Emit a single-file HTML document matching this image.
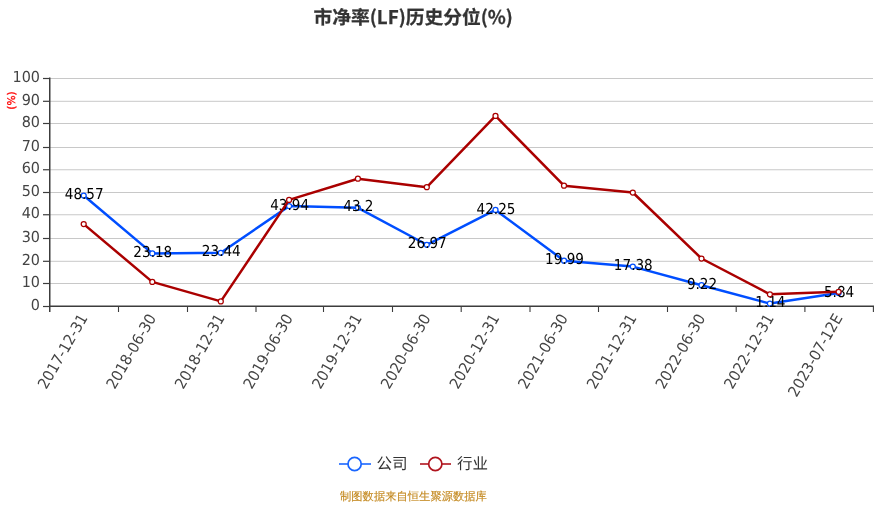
<!DOCTYPE html>
<html><head><meta charset="utf-8"><title>市净率(LF)历史分位(%)</title>
<style>
html,body{margin:0;padding:0;background:#fff;}
body{width:883px;height:509px;position:relative;overflow:hidden;}
svg{position:absolute;left:0;top:0;will-change:transform;}
text{text-rendering:geometricPrecision;}
.ax{font-family:"DejaVu Sans","Noto Sans CJK SC",sans-serif;font-size:15.2px;fill:#444;}
.dl{font-family:"DejaVu Sans","Noto Sans CJK SC",sans-serif;font-size:15.0px;fill:#000;}
.title{font-family:"Noto Sans CJK SC","Liberation Sans",sans-serif;font-size:18.75px;font-weight:bold;fill:#333;stroke:#333;stroke-width:0.25px;}
.unit{font-family:"DejaVu Sans","Noto Sans CJK SC",sans-serif;font-size:10.6px;fill:#ff0000;stroke:#ff0000;stroke-width:0.3px;}
.leg{font-family:"Liberation Sans","Noto Sans CJK SC",sans-serif;font-size:15.5px;fill:#333;}
.src{font-family:"Liberation Sans","WenQuanYi Zen Hei","Noto Sans CJK SC",sans-serif;font-size:11.3px;fill:#c48a22;stroke:#c48a22;stroke-width:0.15px;}
</style></head>
<body>
<svg width="883" height="509" viewBox="0 0 883 509">
<text x="313.5" y="24" class="title">市净率(LF)历史分位(%)</text>
<text transform="translate(14.5,100.5) rotate(-90)" text-anchor="middle" class="unit">(%)</text>
<line x1="50" y1="283.50" x2="873" y2="283.50" stroke="#c8c8c8" stroke-width="1"/>
<line x1="50" y1="261.30" x2="873" y2="261.30" stroke="#c8c8c8" stroke-width="1"/>
<line x1="50" y1="238.50" x2="873" y2="238.50" stroke="#c8c8c8" stroke-width="1"/>
<line x1="50" y1="214.75" x2="873" y2="214.75" stroke="#c8c8c8" stroke-width="1"/>
<line x1="50" y1="192.50" x2="873" y2="192.50" stroke="#c8c8c8" stroke-width="1"/>
<line x1="50" y1="169.75" x2="873" y2="169.75" stroke="#c8c8c8" stroke-width="1"/>
<line x1="50" y1="147.50" x2="873" y2="147.50" stroke="#c8c8c8" stroke-width="1"/>
<line x1="50" y1="123.50" x2="873" y2="123.50" stroke="#c8c8c8" stroke-width="1"/>
<line x1="50" y1="101.30" x2="873" y2="101.30" stroke="#c8c8c8" stroke-width="1"/>
<line x1="50" y1="78.50" x2="873" y2="78.50" stroke="#c8c8c8" stroke-width="1"/>
<line x1="43" y1="306.50" x2="50" y2="306.50" stroke="#3c3c3c" stroke-width="1.2"/>
<text transform="translate(40,309.70) scale(0.947,1)" text-anchor="end" class="ax">0</text>
<line x1="43" y1="283.50" x2="50" y2="283.50" stroke="#3c3c3c" stroke-width="1.2"/>
<text transform="translate(40,286.70) scale(0.947,1)" text-anchor="end" class="ax">10</text>
<line x1="43" y1="261.30" x2="50" y2="261.30" stroke="#3c3c3c" stroke-width="1.2"/>
<text transform="translate(40,264.50) scale(0.947,1)" text-anchor="end" class="ax">20</text>
<line x1="43" y1="238.50" x2="50" y2="238.50" stroke="#3c3c3c" stroke-width="1.2"/>
<text transform="translate(40,241.70) scale(0.947,1)" text-anchor="end" class="ax">30</text>
<line x1="43" y1="214.75" x2="50" y2="214.75" stroke="#3c3c3c" stroke-width="1.2"/>
<text transform="translate(40,217.95) scale(0.947,1)" text-anchor="end" class="ax">40</text>
<line x1="43" y1="192.50" x2="50" y2="192.50" stroke="#3c3c3c" stroke-width="1.2"/>
<text transform="translate(40,195.70) scale(0.947,1)" text-anchor="end" class="ax">50</text>
<line x1="43" y1="169.75" x2="50" y2="169.75" stroke="#3c3c3c" stroke-width="1.2"/>
<text transform="translate(40,172.95) scale(0.947,1)" text-anchor="end" class="ax">60</text>
<line x1="43" y1="147.50" x2="50" y2="147.50" stroke="#3c3c3c" stroke-width="1.2"/>
<text transform="translate(40,150.70) scale(0.947,1)" text-anchor="end" class="ax">70</text>
<line x1="43" y1="123.50" x2="50" y2="123.50" stroke="#3c3c3c" stroke-width="1.2"/>
<text transform="translate(40,126.70) scale(0.947,1)" text-anchor="end" class="ax">80</text>
<line x1="43" y1="101.30" x2="50" y2="101.30" stroke="#3c3c3c" stroke-width="1.2"/>
<text transform="translate(40,104.50) scale(0.947,1)" text-anchor="end" class="ax">90</text>
<line x1="43" y1="78.50" x2="50" y2="78.50" stroke="#3c3c3c" stroke-width="1.2"/>
<text transform="translate(40,81.70) scale(0.947,1)" text-anchor="end" class="ax">100</text>
<line x1="49.75" y1="77.5" x2="49.75" y2="312" stroke="#3c3c3c" stroke-width="1.5"/>
<line x1="49" y1="306.25" x2="874" y2="306.25" stroke="#3c3c3c" stroke-width="1.5"/>
<line x1="118.50" y1="306" x2="118.50" y2="312" stroke="#3c3c3c" stroke-width="1.1"/>
<line x1="187.50" y1="306" x2="187.50" y2="312" stroke="#3c3c3c" stroke-width="1.1"/>
<line x1="256.00" y1="306" x2="256.00" y2="312" stroke="#3c3c3c" stroke-width="1.1"/>
<line x1="323.50" y1="306" x2="323.50" y2="312" stroke="#3c3c3c" stroke-width="1.1"/>
<line x1="392.50" y1="306" x2="392.50" y2="312" stroke="#3c3c3c" stroke-width="1.1"/>
<line x1="461.20" y1="306" x2="461.20" y2="312" stroke="#3c3c3c" stroke-width="1.1"/>
<line x1="530.00" y1="306" x2="530.00" y2="312" stroke="#3c3c3c" stroke-width="1.1"/>
<line x1="598.50" y1="306" x2="598.50" y2="312" stroke="#3c3c3c" stroke-width="1.1"/>
<line x1="667.50" y1="306" x2="667.50" y2="312" stroke="#3c3c3c" stroke-width="1.1"/>
<line x1="736.20" y1="306" x2="736.20" y2="312" stroke="#3c3c3c" stroke-width="1.1"/>
<line x1="804.90" y1="306" x2="804.90" y2="312" stroke="#3c3c3c" stroke-width="1.1"/>
<line x1="873.40" y1="306" x2="873.40" y2="312" stroke="#3c3c3c" stroke-width="1.1"/>
<text transform="translate(83.70,315.2) rotate(-60) scale(0.947,1)" text-anchor="end" class="ax" dy="5">2017-12-31</text>
<text transform="translate(152.30,315.2) rotate(-60) scale(0.947,1)" text-anchor="end" class="ax" dy="5">2018-06-30</text>
<text transform="translate(220.80,315.2) rotate(-60) scale(0.947,1)" text-anchor="end" class="ax" dy="5">2018-12-31</text>
<text transform="translate(289.10,315.2) rotate(-60) scale(0.947,1)" text-anchor="end" class="ax" dy="5">2019-06-30</text>
<text transform="translate(357.90,315.2) rotate(-60) scale(0.947,1)" text-anchor="end" class="ax" dy="5">2019-12-31</text>
<text transform="translate(426.80,315.2) rotate(-60) scale(0.947,1)" text-anchor="end" class="ax" dy="5">2020-06-30</text>
<text transform="translate(495.50,315.2) rotate(-60) scale(0.947,1)" text-anchor="end" class="ax" dy="5">2020-12-31</text>
<text transform="translate(564.00,315.2) rotate(-60) scale(0.947,1)" text-anchor="end" class="ax" dy="5">2021-06-30</text>
<text transform="translate(632.80,315.2) rotate(-60) scale(0.947,1)" text-anchor="end" class="ax" dy="5">2021-12-31</text>
<text transform="translate(701.50,315.2) rotate(-60) scale(0.947,1)" text-anchor="end" class="ax" dy="5">2022-06-30</text>
<text transform="translate(769.90,315.2) rotate(-60) scale(0.947,1)" text-anchor="end" class="ax" dy="5">2022-12-31</text>
<text transform="translate(838.60,315.2) rotate(-60) scale(0.947,1)" text-anchor="end" class="ax" dy="5">2023-07-12E</text>
<polyline points="83.70,195.56 152.30,253.40 220.80,252.80 289.10,206.10 357.90,207.79 426.80,244.76 495.50,209.95 564.00,260.66 632.80,266.61 701.50,285.20 769.90,303.60 838.60,292.90" fill="none" stroke="#004eff" stroke-width="2.5" stroke-linejoin="round"/>
<circle cx="83.70" cy="195.56" r="2.5" fill="#fff" stroke="#004eff" stroke-width="1.25"/>
<circle cx="152.30" cy="253.40" r="2.5" fill="#fff" stroke="#004eff" stroke-width="1.25"/>
<circle cx="220.80" cy="252.80" r="2.5" fill="#fff" stroke="#004eff" stroke-width="1.25"/>
<circle cx="289.10" cy="206.10" r="2.5" fill="#fff" stroke="#004eff" stroke-width="1.25"/>
<circle cx="357.90" cy="207.79" r="2.5" fill="#fff" stroke="#004eff" stroke-width="1.25"/>
<circle cx="426.80" cy="244.76" r="2.5" fill="#fff" stroke="#004eff" stroke-width="1.25"/>
<circle cx="495.50" cy="209.95" r="2.5" fill="#fff" stroke="#004eff" stroke-width="1.25"/>
<circle cx="564.00" cy="260.66" r="2.5" fill="#fff" stroke="#004eff" stroke-width="1.25"/>
<circle cx="632.80" cy="266.61" r="2.5" fill="#fff" stroke="#004eff" stroke-width="1.25"/>
<circle cx="701.50" cy="285.20" r="2.5" fill="#fff" stroke="#004eff" stroke-width="1.25"/>
<circle cx="769.90" cy="303.60" r="2.5" fill="#fff" stroke="#004eff" stroke-width="1.25"/>
<circle cx="838.60" cy="292.90" r="2.5" fill="#fff" stroke="#004eff" stroke-width="1.25"/>
<text transform="translate(84.20,199.16) scale(0.905,1)" text-anchor="middle" class="dl">48.57</text>
<text transform="translate(152.80,257.00) scale(0.905,1)" text-anchor="middle" class="dl">23.18</text>
<text transform="translate(221.30,256.40) scale(0.905,1)" text-anchor="middle" class="dl">23.44</text>
<text transform="translate(289.60,209.70) scale(0.905,1)" text-anchor="middle" class="dl">43.94</text>
<text transform="translate(358.40,211.39) scale(0.905,1)" text-anchor="middle" class="dl">43.2</text>
<text transform="translate(427.30,248.36) scale(0.905,1)" text-anchor="middle" class="dl">26.97</text>
<text transform="translate(496.00,213.55) scale(0.905,1)" text-anchor="middle" class="dl">42.25</text>
<text transform="translate(564.50,264.26) scale(0.905,1)" text-anchor="middle" class="dl">19.99</text>
<text transform="translate(633.30,270.21) scale(0.905,1)" text-anchor="middle" class="dl">17.38</text>
<text transform="translate(702.00,288.80) scale(0.905,1)" text-anchor="middle" class="dl">9.22</text>
<text transform="translate(770.40,307.20) scale(0.905,1)" text-anchor="middle" class="dl">1.14</text>
<text transform="translate(839.10,296.50) scale(0.905,1)" text-anchor="middle" class="dl">5.84</text>
<polyline points="83.70,224.10 152.30,281.90 220.80,301.40 289.10,199.90 357.90,178.70 426.80,187.20 495.50,115.90 564.00,185.70 632.80,192.50 701.50,258.50 769.90,294.30 838.60,291.80" fill="none" stroke="#aa0000" stroke-width="2.5" stroke-linejoin="round"/>
<circle cx="83.70" cy="224.10" r="2.5" fill="#fff" stroke="#aa0000" stroke-width="1.25"/>
<circle cx="152.30" cy="281.90" r="2.5" fill="#fff" stroke="#aa0000" stroke-width="1.25"/>
<circle cx="220.80" cy="301.40" r="2.5" fill="#fff" stroke="#aa0000" stroke-width="1.25"/>
<circle cx="289.10" cy="199.90" r="2.5" fill="#fff" stroke="#aa0000" stroke-width="1.25"/>
<circle cx="357.90" cy="178.70" r="2.5" fill="#fff" stroke="#aa0000" stroke-width="1.25"/>
<circle cx="426.80" cy="187.20" r="2.5" fill="#fff" stroke="#aa0000" stroke-width="1.25"/>
<circle cx="495.50" cy="115.90" r="2.5" fill="#fff" stroke="#aa0000" stroke-width="1.25"/>
<circle cx="564.00" cy="185.70" r="2.5" fill="#fff" stroke="#aa0000" stroke-width="1.25"/>
<circle cx="632.80" cy="192.50" r="2.5" fill="#fff" stroke="#aa0000" stroke-width="1.25"/>
<circle cx="701.50" cy="258.50" r="2.5" fill="#fff" stroke="#aa0000" stroke-width="1.25"/>
<circle cx="769.90" cy="294.30" r="2.5" fill="#fff" stroke="#aa0000" stroke-width="1.25"/>
<circle cx="838.60" cy="291.80" r="2.5" fill="#fff" stroke="#aa0000" stroke-width="1.25"/>
<line x1="339" y1="464" x2="371" y2="464" stroke="#1a66ff" stroke-width="1.6"/>
<circle cx="354.6" cy="464" r="6.6" fill="#fff" stroke="#1a66ff" stroke-width="1.7"/>
<text x="376.5" y="468.6" class="leg">公司</text>
<line x1="420" y1="464" x2="451" y2="464" stroke="#b0141e" stroke-width="1.6"/>
<circle cx="435.3" cy="464" r="6.6" fill="#fff" stroke="#b0141e" stroke-width="1.7"/>
<text x="457" y="468.6" class="leg">行业</text>
<text x="340" y="500.2" class="src">制图数据来自恒生聚源数据库</text>
</svg>
</body></html>
